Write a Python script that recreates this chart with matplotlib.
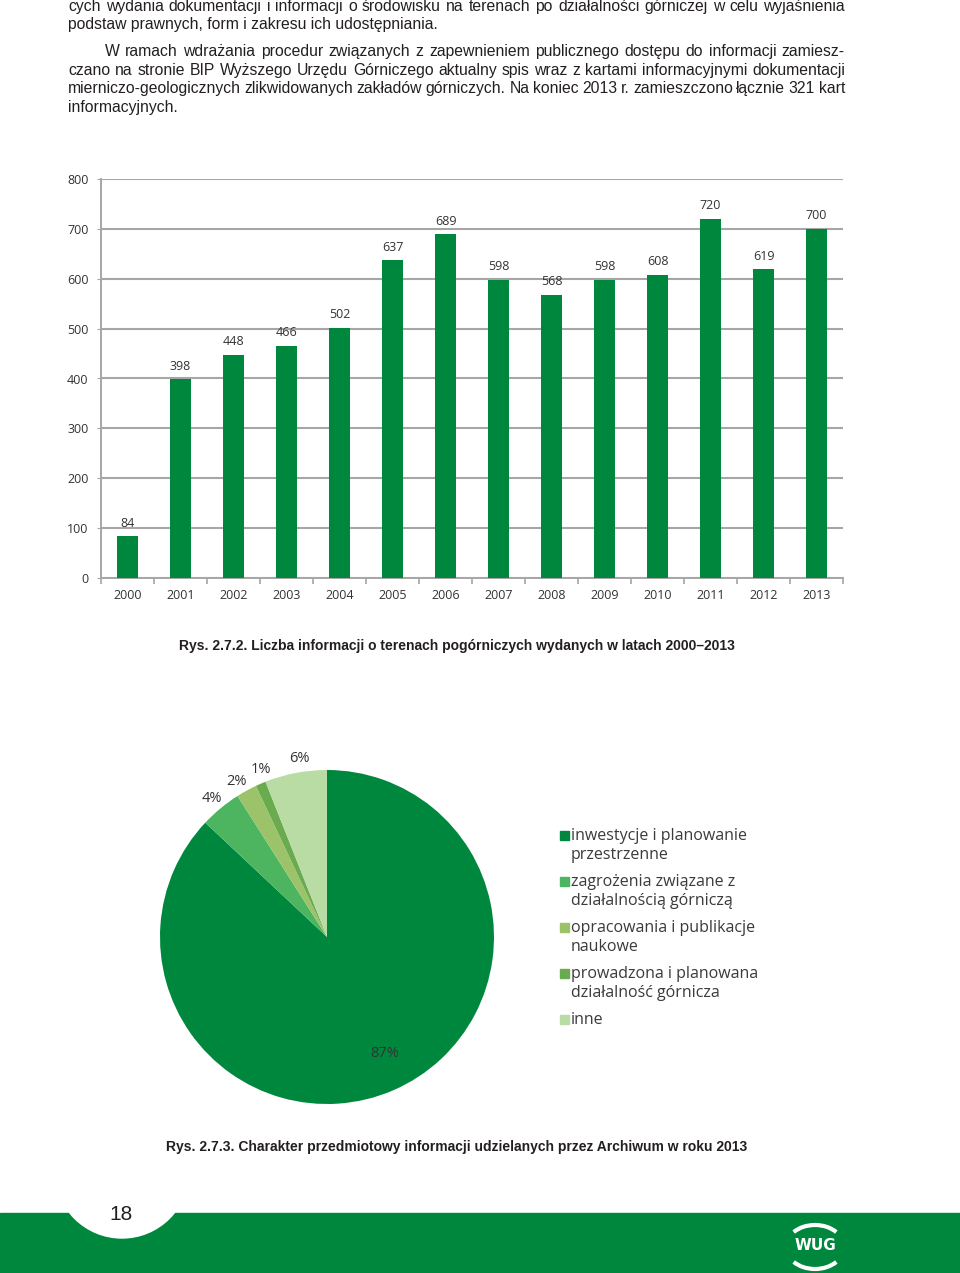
import matplotlib
matplotlib.use("Agg")
import matplotlib.pyplot as plt
import numpy as np
from matplotlib.patches import Rectangle, Circle, Arc
from matplotlib.transforms import Affine2D

W, H = 960, 1273

# dane wykresu slupkowego
years = [str(y) for y in range(2000, 2014)]
counts = [84, 398, 448, 466, 502, 637, 689, 598, 568, 598, 608, 720, 619, 700]

# dane wykresu kolowego
pie_labels = ["inwestycje i planowanie\nprzestrzenne",
              "zagrożenia związane z\ndziałalnością górniczą",
              "opracowania i publikacje\nnaukowe",
              "prowadzona i planowana\ndziałalność górnicza",
              "inne"]
pie_shares = [87, 4, 2, 1, 6]
pie_colors = ["#00873e", "#4db560", "#9cc36a", "#6aab4f", "#b9dca5"]

# tekst strony: (tekst, x poczatku, y srodka linii, justowanie)
body_lines = [
    ("cych wydania dokumentacji i informacji o środowisku na terenach po działalności górniczej w celu wyjaśnienia", 68, 6, True),
    ("podstaw prawnych, form i zakresu ich udostępniania.", 68, 24, False),
    ("W ramach wdrażania procedur związanych z zapewnieniem publicznego dostępu do informacji zamiesz-", 105, 51, True),
    ("czano na stronie BIP Wyższego Urzędu Górniczego aktualny spis wraz z kartami informacyjnymi dokumentacji", 68, 70, True),
    ("mierniczo-geologicznych zlikwidowanych zakładów górniczych. Na koniec 2013 r. zamieszczono łącznie 321 kart", 68, 88, True),
    ("informacyjnych.", 68, 107, False),
]
cap1 = "Rys. 2.7.2. Liczba informacji o terenach pogórniczych wydanych w latach 2000–2013"
cap2 = "Rys. 2.7.3. Charakter przedmiotowy informacji udzielanych przez Archiwum w roku 2013"

green = "#00873e"
dark = "#231f20"
gray = "#a6a6a6"
sans = "Liberation Sans"

fig = plt.figure(figsize=(W / 100, H / 100), dpi=100)
# wspolrzedne w pikselach od gornego lewego rogu
pix = Affine2D().scale(1 / W, -1 / H).translate(0, 1) + fig.transFigure

def ax_rect(left, top, right, bottom):
    return [left / W, 1 - bottom / H, (right - left) / W, (bottom - top) / H]

# tekst akapitow - kazde slowo na wspolnej linii bazowej, justowanie do 845 px
body_style = dict(family=sans, fontsize=11.3, color=dark, va="baseline", transform=pix)
renderer = fig.canvas.get_renderer()
for text, x0, y, just in body_lines:
    base = y + 5
    if not just:
        fig.text(x0, base, text, **body_style)
        continue
    words = text.split()
    objs = [fig.text(0, base, w, **body_style) for w in words]
    ws = [o.get_window_extent(renderer).width for o in objs]
    gap = (845 - x0 - sum(ws)) / (len(words) - 1)
    x = x0
    for o, w in zip(objs, ws):
        o.set_x(x)
        x += w + gap

# wykres slupkowy
ax = fig.add_axes(ax_rect(101, 179, 843, 578))
xpos = np.arange(len(years))
ax.bar(xpos, counts, width=0.4, color=green, zorder=3)
ax.set_xlim(-0.5, len(years) - 0.5)
ax.set_ylim(0, 800)
ax.set_yticks(range(0, 801, 100))
ax.yaxis.grid(True, color=gray, lw=1.5)
ax.set_axisbelow(True)
for s in ["top", "right"]:
    ax.spines[s].set_visible(False)
for s in ["left", "bottom"]:
    ax.spines[s].set_color(gray)
    ax.spines[s].set_linewidth(1.4)
ax.set_xticks(xpos, years)
ax.set_xticks(np.arange(-0.5, len(years)), minor=True)
ax.tick_params(axis="x", which="major", length=0, pad=8)
ax.tick_params(axis="x", which="minor", length=4, color=gray, width=1.2)
ax.tick_params(axis="y", length=3, color=gray, pad=6)
for lab in ax.get_xticklabels() + ax.get_yticklabels():
    lab.set_family("Open Sans")
    lab.set_fontsize(9)
    lab.set_color("#333333")
for xi, v in zip(xpos, counts):
    ax.annotate(str(v), (xi, v), xytext=(0, 9.3), textcoords="offset points",
                ha="center", va="center", family="Open Sans", fontsize=9, color="#333333")

fig.text(457, 646, cap1, family=sans, fontweight="bold", fontsize=10, color=dark,
         ha="center", va="center", transform=pix)

# wykres kolowy
pax = fig.add_axes(ax_rect(160, 770, 494, 1104))
wedges, _ = pax.pie(pie_shares, colors=pie_colors, startangle=90, counterclock=False,
                    radius=1, wedgeprops=dict(linewidth=0))
pax.set_xlim(-1, 1)
pax.set_ylim(-1, 1)
# drobne przesuniecia katowe etykiet, zeby sie nie nachodzily
nudge = [3, 0, 1.5, -2, -2]
for i, (wd, share) in enumerate(zip(wedges, pie_shares)):
    mid = np.deg2rad((wd.theta1 + wd.theta2) / 2 + nudge[i])
    r = 0.78 if i == 0 else 1.08
    pax.text(r * np.cos(mid), r * np.sin(mid), f"{share}%", ha="center", va="center",
             family="Open Sans", fontsize=10.5, color="#333333", clip_on=False)

# legenda
for i, (lab, col) in enumerate(zip(pie_labels, pie_colors)):
    y0 = 835 + 46 * i
    fig.patches.append(Rectangle((560, y0 - 4), 9, 9, color=col, transform=pix))
    for j, line in enumerate(lab.split("\n")):
        fig.text(571, y0 + 19 * j + 5, line, family="Open Sans", fontsize=11.5, color="#3a3a3a",
                 va="baseline", transform=pix)

fig.text(457, 1147, cap2, family=sans, fontweight="bold", fontsize=10, color=dark,
         ha="center", va="center", transform=pix)

# stopka
fig.patches.append(Rectangle((0, 1213), W, 60, color=green, transform=pix, zorder=1))
fig.patches.append(Circle((122, 1171), 67, color="white", transform=pix, zorder=2))
fig.text(121, 1215, "18", family=sans, fontsize=15, color=dark, ha="center", va="center",
         transform=pix, zorder=3)
fig.patches.append(Arc((815, 1247), 58, 44, theta1=35, theta2=145, color="white", lw=3,
                       transform=pix, zorder=3))
fig.patches.append(Arc((815, 1247), 58, 44, theta1=215, theta2=325, color="white", lw=3,
                       transform=pix, zorder=3))
fig.text(815, 1246, "WUG", family="DejaVu Sans", fontweight="bold", fontsize=11, color="white",
         ha="center", va="center", transform=pix, zorder=3)

fig.savefig("out.png", dpi=100)
